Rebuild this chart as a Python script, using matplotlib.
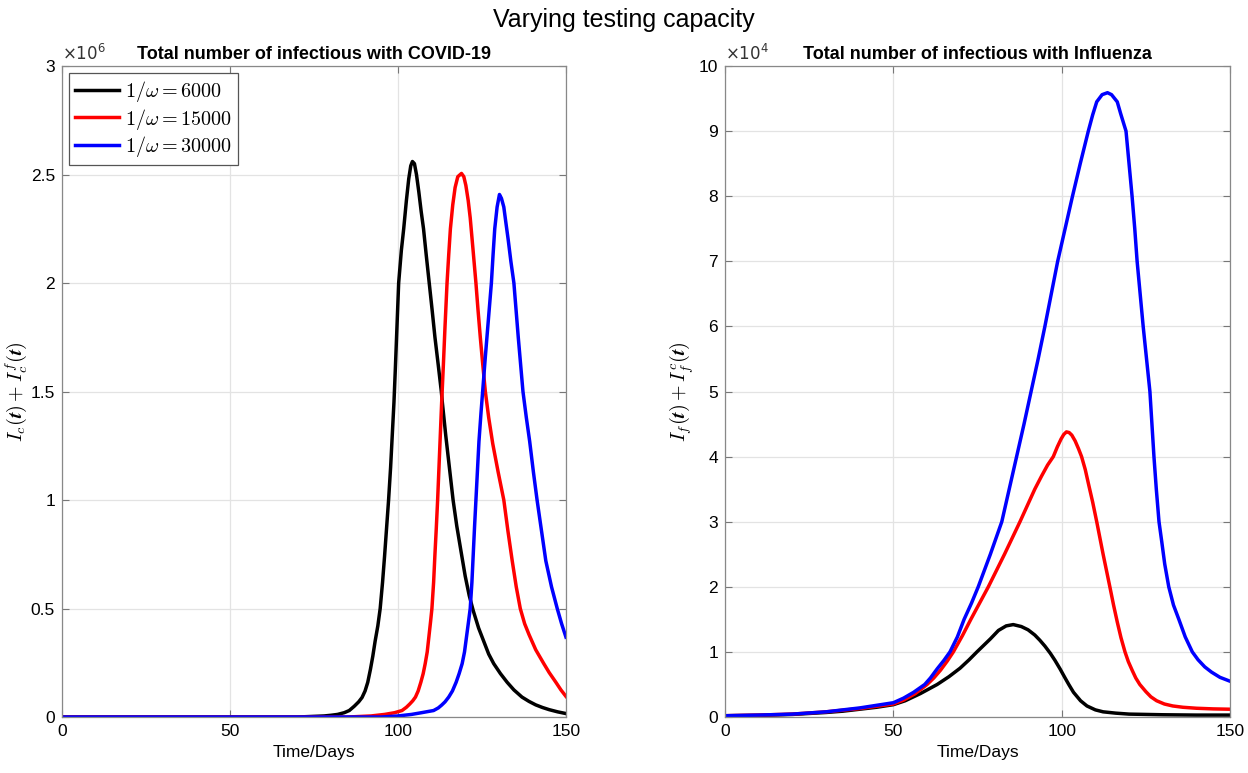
import numpy as np
import matplotlib.pyplot as plt
from matplotlib.ticker import FuncFormatter

plt.rcParams['font.family'] = ['Liberation Sans', 'DejaVu Sans']
plt.rcParams['mathtext.fontset'] = 'cm'

# --- COVID-19 panel: total infectious (x1e6 people) ---
covid_t_6000 = [0, 70, 78, 80, 82, 84, 85.5, 87, 88.3, 89.3, 90.2, 91, 91.8, 92.5, 93.2, 94, 94.7,
                95.4, 96, 96.6, 97.2, 97.8, 98.3, 98.8, 99.2, 99.7, 100.2, 101, 101.7, 102.5,
                103.2, 103.8, 104.3, 104.9, 105.5, 106.2, 106.9, 107.6, 108.4, 109.3, 110.2, 111,
                112, 112.9, 113.2, 114.2, 115.3, 116.4, 117.5, 118.8, 120, 121.2, 122.4, 124,
                125.5, 127, 128.5, 130.5, 132.5, 134.5, 136.9, 139, 141, 143, 145, 147.5, 150]
covid_v_6000 = [0, 0.0, 0.005, 0.008, 0.012, 0.02, 0.03, 0.05, 0.07, 0.09, 0.12, 0.16, 0.22, 0.28,
                0.35, 0.42, 0.5, 0.62, 0.74, 0.87, 1.0, 1.15, 1.3, 1.45, 1.6, 1.8, 2.0, 2.15, 2.25,
                2.38, 2.48, 2.54, 2.56, 2.55, 2.5, 2.42, 2.33, 2.25, 2.13, 2.0, 1.87, 1.75, 1.62,
                1.5, 1.45, 1.3, 1.15, 1.0, 0.88, 0.76, 0.65, 0.56, 0.49, 0.41, 0.35, 0.29, 0.246,
                0.2, 0.16, 0.125, 0.092, 0.072, 0.056, 0.044, 0.034, 0.024, 0.016]

covid_t_15000 = [0, 85, 92, 96, 99, 101.2, 102.5, 103.5, 104.4, 105.2, 106, 106.8, 107.5, 108.1,
                 108.7, 109.2, 109.7, 110.1, 110.6, 111, 111.4, 111.8, 112.2, 112.6, 113, 113.5,
                 114, 114.6, 115.1, 115.6, 116.3, 117, 117.8, 118.9, 119.6, 120.2, 120.9, 121.5,
                 122.3, 123.2, 123.8, 124.5, 125.2, 126, 127, 128.2, 129.8, 131.5, 132.7, 134,
                 135.2, 136.4, 137.7, 139, 141, 143.4, 145, 147, 148.5, 150]
covid_v_15000 = [0, 0.0, 0.005, 0.012, 0.02, 0.03, 0.045, 0.06, 0.075, 0.092, 0.12, 0.16, 0.2,
                 0.246, 0.3, 0.37, 0.44, 0.5, 0.62, 0.75, 0.87, 1.0, 1.15, 1.3, 1.45, 1.62, 1.8,
                 2.0, 2.13, 2.25, 2.36, 2.44, 2.49, 2.505, 2.49, 2.45, 2.38, 2.3, 2.16, 2.0, 1.88,
                 1.75, 1.63, 1.5, 1.38, 1.26, 1.13, 1.0, 0.86, 0.72, 0.6, 0.5, 0.43, 0.38, 0.31,
                 0.246, 0.205, 0.16, 0.125, 0.095]

covid_t_30000 = [0, 95, 100, 104, 107, 110.6, 112, 113, 114, 115.1, 116.2, 117.3, 118.2, 119.1,
                 119.8, 120.4, 121, 121.5, 122, 122.4, 122.8, 123.2, 123.7, 124.1, 124.7, 125.3,
                 126, 126.9, 127.8, 128.3, 128.8, 129.5, 130.2, 130.8, 131.5, 132.1, 132.8, 133.6,
                 134.5, 135.8, 137.2, 138.2, 139.2, 140.3, 141.4, 142.7, 144, 145.7, 147.4, 148.7,
                 150]
covid_v_30000 = [0, 0.0, 0.005, 0.012, 0.02, 0.03, 0.042, 0.055, 0.07, 0.092, 0.12, 0.16, 0.2,
                 0.246, 0.3, 0.37, 0.44, 0.5, 0.62, 0.75, 0.88, 1.0, 1.15, 1.27, 1.4, 1.52, 1.66,
                 1.83, 2.0, 2.13, 2.25, 2.35, 2.408, 2.39, 2.35, 2.28, 2.2, 2.1, 2.0, 1.75, 1.5,
                 1.38, 1.27, 1.13, 1.0, 0.86, 0.72, 0.6, 0.5, 0.43, 0.368]

# --- Influenza panel: total infectious (x1e4 people) ---
flu_t_6000 = [0, 10, 20, 30, 35, 40, 45, 50, 53.5, 58, 63, 66.5, 69.8, 72.5, 74.8, 77, 78.8,
              81.2, 83.5, 85.6, 88, 90, 92, 93.5, 95, 96.6, 98, 99.5, 101, 102.1, 103.5, 105.6,
              107.5, 110, 112.3, 116, 120, 130, 140, 150]
flu_v_6000 = [0.02, 0.025, 0.04, 0.07, 0.09, 0.12, 0.15, 0.19, 0.25, 0.36, 0.5, 0.62, 0.75, 0.88,
              1.0, 1.11, 1.2, 1.33, 1.4, 1.42, 1.39, 1.34, 1.26, 1.18, 1.09, 0.98, 0.87, 0.74,
              0.6, 0.5, 0.38, 0.25, 0.17, 0.11, 0.08, 0.06, 0.045, 0.035, 0.03, 0.03]

flu_t_15000 = [0, 10, 20, 30, 40, 50, 53, 56.5, 60, 62, 64, 66, 67.8, 70.5, 73, 75.6, 78.2, 80.6,
               83, 85.3, 87.6, 89.8, 92, 94, 95.8, 97.5, 98.7, 99.8, 100.6, 101.4, 102.2, 103,
               104, 105, 105.9, 107, 108, 109.2, 110.4, 112.3, 114.3, 115.4, 116.5, 117.6, 118.8,
               119.8, 121, 122, 123.2, 125, 126.5, 128.2, 130.5, 133, 136, 140, 145, 150]
flu_v_15000 = [0.02, 0.03, 0.045, 0.08, 0.13, 0.2, 0.26, 0.36, 0.5, 0.6, 0.72, 0.86, 1.0, 1.25,
               1.5, 1.75, 2.0, 2.25, 2.5, 2.75, 3.0, 3.25, 3.5, 3.7, 3.87, 4.0, 4.15, 4.27, 4.34,
               4.38, 4.37, 4.33, 4.24, 4.12, 4.0, 3.8, 3.57, 3.3, 3.0, 2.5, 2.0, 1.72, 1.46, 1.22,
               1.0, 0.85, 0.71, 0.6, 0.5, 0.39, 0.31, 0.25, 0.2, 0.17, 0.15, 0.135, 0.125, 0.12]

flu_t_30000 = [0, 10, 20, 30, 40, 50, 53, 56, 59.3, 61, 63, 65, 66.8, 69, 71, 73.2, 75.2, 77,
               78.8, 80.5, 82.2, 84.4, 86.6, 88.8, 90.9, 93, 95, 96.9, 98.8, 101, 103.2, 105.5,
               107.9, 109.2, 110.4, 112, 113.6, 114.8, 116.5, 117.5, 119.1, 120, 120.9, 121.7,
               122.4, 123.3, 124.2, 125.2, 126.2, 126.8, 127.4, 128.1, 128.9, 129.7, 130.6,
               131.8, 133.2, 134.8, 136.7, 138.8, 140.5, 142.5, 144.5, 147, 150]
flu_v_30000 = [0.02, 0.03, 0.045, 0.08, 0.14, 0.22, 0.29, 0.38, 0.5, 0.6, 0.74, 0.87, 1.0, 1.23,
               1.5, 1.75, 2.0, 2.25, 2.5, 2.75, 3.0, 3.5, 4.0, 4.5, 5.0, 5.5, 6.0, 6.5, 7.0, 7.5,
               8.0, 8.5, 9.0, 9.25, 9.45, 9.56, 9.59, 9.56, 9.45, 9.27, 9.0, 8.5, 8.0, 7.5, 7.0,
               6.5, 6.0, 5.5, 5.0, 4.5, 4.0, 3.5, 3.0, 2.7, 2.35, 2.0, 1.72, 1.5, 1.23, 1.0, 0.88,
               0.77, 0.69, 0.61, 0.55]

labels = [r'$1/\omega = 6000$', r'$1/\omega = 15000$', r'$1/\omega = 30000$']
colors = ['black', 'red', 'blue']

fig = plt.figure(figsize=(12.48, 7.73), dpi=100)
ax1 = fig.add_axes([0.0497, 0.0724, 0.4038, 0.8422])
ax2 = fig.add_axes([0.5810, 0.0724, 0.4046, 0.8422])

covid = [(covid_t_6000, covid_v_6000), (covid_t_15000, covid_v_15000),
         (covid_t_30000, covid_v_30000)]
flu = [(flu_t_6000, flu_v_6000), (flu_t_15000, flu_v_15000), (flu_t_30000, flu_v_30000)]

for (t, v), c, lab in zip(covid, colors, labels):
    ax1.plot(t, np.array(v) * 1e6, color=c, lw=2.5, label=lab, solid_joinstyle='round')
for (t, v), c in zip(flu, colors):
    ax2.plot(t, np.array(v) * 1e4, color=c, lw=2.5, solid_joinstyle='round')


def style(ax, scale, ymax, ystep):
    ax.set_xlim(0, 150)
    ax.set_ylim(0, ymax * scale)
    ax.set_xticks([0, 50, 100, 150])
    ax.set_yticks(np.arange(0, ymax + 1e-9, ystep) * scale)
    ax.yaxis.set_major_formatter(FuncFormatter(lambda y, p: f'{y / scale:g}'))
    ax.grid(True, color='#e3e3e3', lw=0.9)
    ax.set_axisbelow(True)
    ax.tick_params(direction='in', length=5, width=0.8, color='#777777', top=True,
                   right=True, labelsize=12.5, pad=5)
    for s in ax.spines.values():
        s.set_color('#888888')
        s.set_linewidth(0.9)
    ax.set_xlabel('Time/Days', fontsize=12.5, labelpad=4)


style(ax1, 1e6, 3, 0.5)
style(ax2, 1e4, 10, 1)

ax1.text(0.0, 1.004, r'$\times10^{6}$', transform=ax1.transAxes, fontsize=12,
         color='#333333', math_fontfamily='dejavusans', ha='left', va='bottom')
ax2.text(0.0, 1.004, r'$\times10^{4}$', transform=ax2.transAxes, fontsize=12,
         color='#333333', math_fontfamily='dejavusans', ha='left', va='bottom')

ax1.set_title('Total number of infectious with COVID-19', fontsize=13,
              fontweight='bold', pad=5)
ax2.set_title('Total number of infectious with Influenza', fontsize=13,
              fontweight='bold', pad=5)

ax1.set_ylabel(r'$\boldsymbol{I_c(t) + I_c^f(t)}$', fontsize=14.5)
ax2.set_ylabel(r'$\boldsymbol{I_f(t) + I_f^c(t)}$', fontsize=14.5)
ax1.yaxis.set_label_coords(-0.066, 0.5)
ax2.yaxis.set_label_coords(-0.057, 0.5)

leg = ax1.legend(loc='upper left', fontsize=14.5, frameon=True, fancybox=False,
                 edgecolor='#555555', framealpha=1, borderaxespad=0.35,
                 handlelength=2.2, handletextpad=0.3, labelspacing=0.12, borderpad=0.3)
leg.get_frame().set_linewidth(0.9)

fig.suptitle('Varying testing capacity', fontsize=18, y=0.99)

fig.savefig('out.png', dpi=100)
